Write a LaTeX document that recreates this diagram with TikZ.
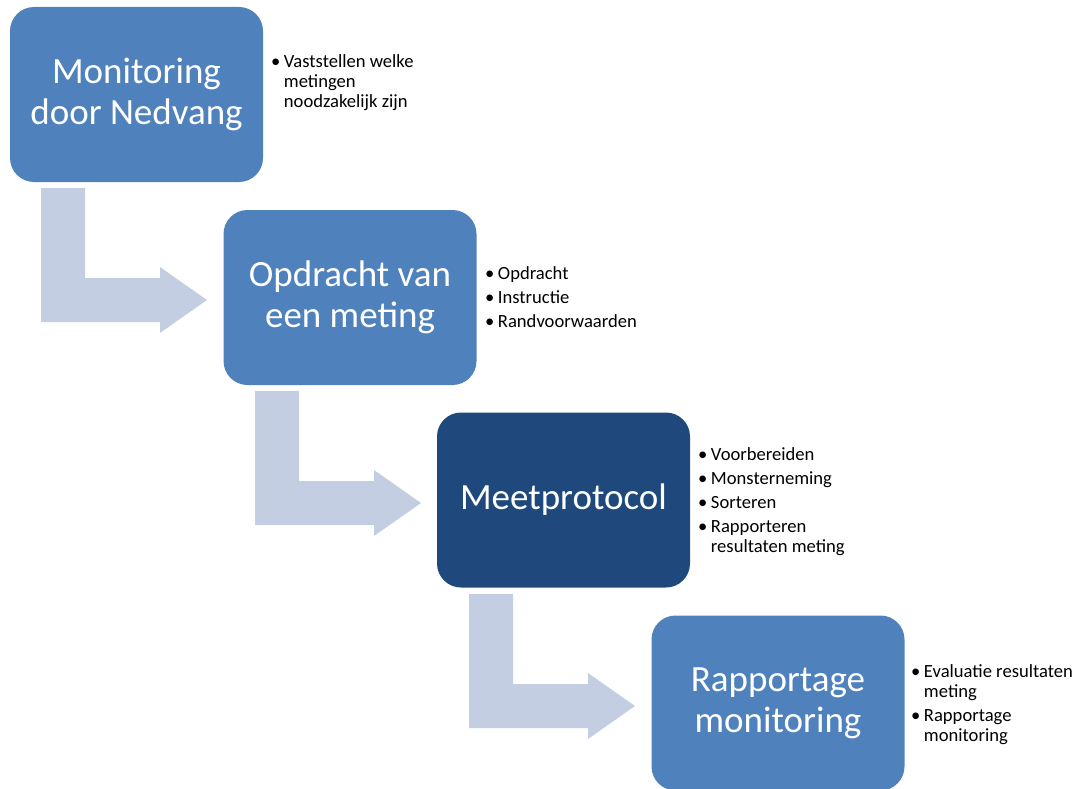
\documentclass[tikz,border=0pt]{standalone}
\usepackage{fontspec}
\setmainfont{Carlito}
\definecolor{stapblauw}{HTML}{4F81BD}
\definecolor{stapdonker}{HTML}{1F497D}
\definecolor{pijlgrijs}{HTML}{C4CEE3}
\begin{document}
\begin{tikzpicture}[x=1pt,y=-1pt,
	stap/.style={fill=stapblauw,rounded corners=24pt,minimum width=253pt,minimum height=175pt,inner sep=0pt,text=white,align=center,font=\fontsize{37}{41}\selectfont},
	lijst/.style={anchor=base west,inner sep=0pt,font=\fontsize{18.6}{20}\selectfont}]
		\def\dx{214} % verschuiving per stap
		\def\dy{203}
		\useasboundingbox (0,0) rectangle (1078,789);
		% pijlen
		\foreach \i in {0,1,2}
		\fill[pijlgrijs,shift={(\i*\dx,\i*\dy)}] (41,188)--(85,188)--(85,278)--(160,278)--(160,267)--(207,300)--(160,333)--(160,322)--(41,322)--cycle;
		% stappen
		\node[stap] (monitoring) at (136.5,94.5) {Monitoring\\door Nedvang};
		\node[stap] (opdracht) at (350,297.5) {Opdracht van\\een meting};
		\node[stap,fill=stapdonker] (meetprotocol) at (563.5,500) {Meetprotocol};
		\node[stap] (rapportage) at (778,703) {Rapportage\\monitoring};
		% lijsten
		\node[lijst] (monitoringlijst) at (271,68) {\begin{tabular}[t]{@{}l@{\hspace{3.5pt}}l@{}}
			\textbullet & Vaststellen welke\\ & metingen\\ & noodzakelijk zijn\end{tabular}};
		\node[lijst] (opdrachtlijst) at (485,279) {\begin{tabular}[t]{@{}l@{\hspace{3.5pt}}l@{}}
			\textbullet & Opdracht\\[4pt] \textbullet & Instructie\\[4pt] \textbullet & Randvoorwaarden\end{tabular}};
		\node[lijst] (meetprotocollijst) at (698,460) {\begin{tabular}[t]{@{}l@{\hspace{3.5pt}}l@{}}
			\textbullet & Voorbereiden\\[4pt] \textbullet & Monsterneming\\[4pt] \textbullet & Sorteren\\[4pt] \textbullet & Rapporteren\\ & resultaten meting\end{tabular}};
		\node[lijst] (rapportagelijst) at (911,677) {\begin{tabular}[t]{@{}l@{\hspace{3.5pt}}l@{}}
			\textbullet & Evaluatie resultaten\\ & meting\\[4pt] \textbullet & Rapportage\\ & monitoring\end{tabular}};
\end{tikzpicture}
\end{document}
